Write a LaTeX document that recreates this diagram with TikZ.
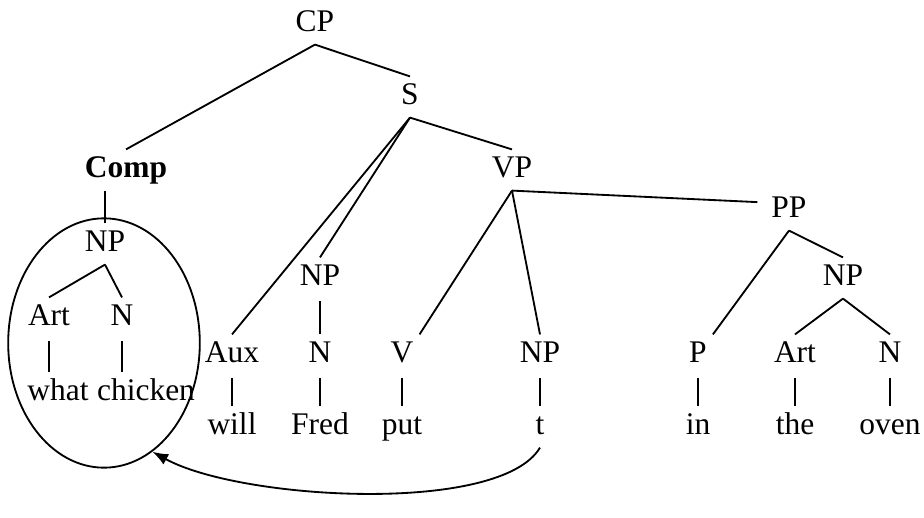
\documentclass[tikz,border=0pt]{standalone}
\usepackage{fontspec}
\setmainfont{Liberation Serif}
\usepackage{tikz}
\usetikzlibrary{shapes.geometric,arrows.meta,positioning}

\begin{document}
\begin{tikzpicture}[x=0.381pt,y=-0.381pt,line width=0.7pt,
    cat/.style={inner sep=2pt,text height=8.5pt,text depth=2.5pt,font=\fontsize{12}{14}\selectfont},
    bar/.style={line width=0.45pt,shorten <=1pt,shorten >=0.3pt}]
        \useasboundingbox (0,0) rectangle (924,518);
        %Upper nodes
        \node[cat] (cp) at (315,24) {CP};
        \node[cat] (s) at (410,97) {S};
        \node[cat] (comp) at (126,170) {\textbf{Comp}};
        \node[cat] (vp) at (512,170) {VP};
        \node[cat] (pp) at (789,210) {PP};
        \node[cat] (npl) at (105,244) {NP};
        \node[cat] (nps) at (320,278) {NP};
        \node[cat] (npr) at (843,278) {NP};
        %Moved phrase
        \node[cat] (artl) at (49,318) {Art};
        \node[cat] (nl) at (122,318) {N};
        \node[cat] (what) at (58,393) {what};
        \node[cat] (chicken) at (146,393) {chicken};
        \node[draw,ellipse,inner sep=0pt,minimum width=73pt,minimum height=95pt] (ring) at (104,343) {};
        %Leaf categories
        \node[cat] (aux) at (232,355) {Aux};
        \node[cat] (ns) at (320,355) {N};
        \node[cat] (v) at (402,355) {V};
        \node[cat] (npt) at (540,355) {NP};
        \node[cat] (p) at (698,355) {P};
        \node[cat] (artr) at (795,355) {Art};
        \node[cat] (nr) at (890,355) {N};
        %Words
        \node[cat] (will) at (232,427) {will};
        \node[cat] (fred) at (320,427) {Fred};
        \node[cat] (put) at (402,427) {put};
        \node[cat] (t) at (540,427) {t};
        \node[cat] (in) at (698,427) {in};
        \node[cat] (the) at (795,427) {the};
        \node[cat] (oven) at (890,427) {oven};
        %Branches
        \draw (cp.south) -- (comp.north);
        \draw (cp.south) -- (s.north);
        \draw (s.south) -- (aux.north);
        \draw (s.south) -- (nps.north);
        \draw (s.south) -- (vp.north);
        \draw (vp.south) -- (v.north east);
        \draw (vp.south) -- (npt.north);
        \draw (vp.south) -- ([xshift=-3pt,yshift=3pt]pp.west);
        \draw (pp.south) -- (p.north east);
        \draw (pp.south) -- (npr.north);
        \draw (npr.south) -- (artr.north);
        \draw (npr.south) -- (nr.north);
        \draw (npl.south) -- (artl.north);
        \draw (npl.south) -- (nl.north);
        \draw[line width=0.45pt] (npl.north) -- (npl.north |- comp.south);
        %Bars
        \draw[bar] (artl) -- (artl |- what.north);
        \draw[bar] (nl) -- (nl |- chicken.north);
        \draw[bar] (nps) -- (ns.north);
        \draw[bar] (aux) -- (will.north);
        \draw[bar] (ns) -- (fred.north);
        \draw[bar] (v) -- (put.north);
        \draw[bar] (npt) -- (t.north);
        \draw[bar] (p) -- (in.north);
        \draw[bar] (artr) -- (the.north);
        \draw[bar] (nr) -- (oven.north);
        %Movement
        \draw[-{Latex[length=6pt,width=4.5pt]}] (t.south) .. controls (500,515) and (240,500) .. (ring.-66);
      \end{tikzpicture}
\end{document}
